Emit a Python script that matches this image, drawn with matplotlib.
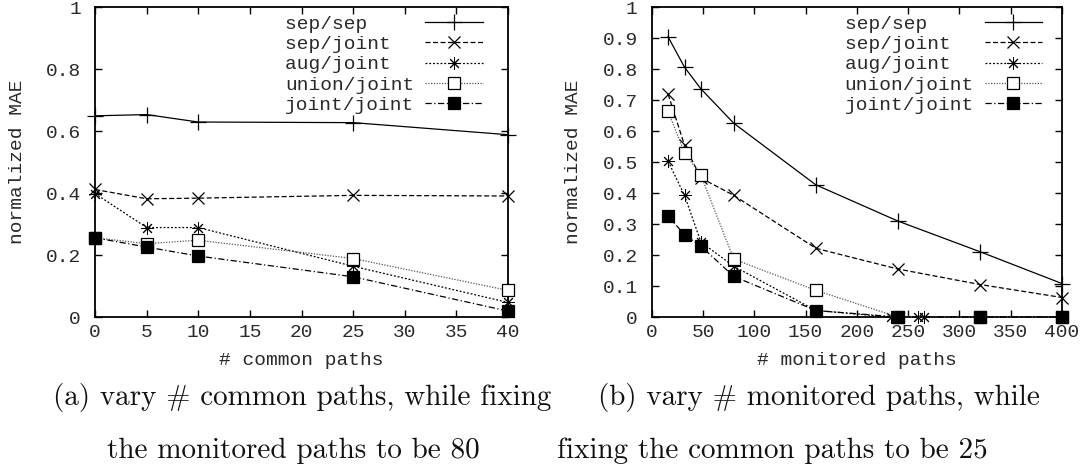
import matplotlib
matplotlib.use("Agg")
import matplotlib.pyplot as plt

# ---------------- data ----------------
series_names = ["sep/sep", "sep/joint", "aug/joint", "union/joint", "joint/joint"]

# (a) vary # common paths
common_x = [0, 5, 10, 25, 40]
a_sep_sep = [0.650, 0.654, 0.630, 0.628, 0.589]
a_sep_joint = [0.412, 0.382, 0.384, 0.393, 0.391]
a_aug_joint = [0.399, 0.289, 0.289, 0.164, 0.047]
a_union_joint = [0.256, 0.237, 0.248, 0.189, 0.086]
a_joint_joint = [0.256, 0.226, 0.197, 0.130, 0.019]

# (b) vary # monitored paths
mon_x = [16, 32, 48, 80, 160, 240, 320, 400]
b_sep_sep = [0.905, 0.807, 0.737, 0.626, 0.427, 0.310, 0.211, 0.108]
b_sep_joint = [0.720, 0.555, 0.449, 0.393, 0.222, 0.155, 0.105, 0.063]
aug_x = [16, 32, 48, 80, 160, 233, 260, 265, 320, 400]
b_aug_joint = [0.503, 0.393, 0.242, 0.164, 0.021, 0.0, 0.0, 0.0, 0.0, 0.0]
b_union_joint = [0.664, 0.531, 0.458, 0.187, 0.086, 0.0, 0.0, 0.0]
b_joint_joint = [0.326, 0.266, 0.229, 0.131, 0.021, 0.0, 0.0, 0.0]

a_xticks = [0, 5, 10, 15, 20, 25, 30, 35, 40]
a_yticks = [0, 0.2, 0.4, 0.6, 0.8, 1]
a_yticklabels = ["0", "0.2", "0.4", "0.6", "0.8", "1"]
b_xticks = [0, 50, 100, 150, 200, 250, 300, 350, 400]
b_yticks = [0, 0.1, 0.2, 0.3, 0.4, 0.5, 0.6, 0.7, 0.8, 0.9, 1]
b_yticklabels = ["0", "0.1", "0.2", "0.3", "0.4", "0.5", "0.6", "0.7", "0.8", "0.9", "1"]

ylabel = "normalized MAE"
a_xlabel = "# common paths"
b_xlabel = "# monitored paths"
a_caption = ["(a) vary # common paths, while fixing", "the monitored paths to be 80"]
b_caption = ["(b) vary # monitored paths, while", "fixing the common paths to be 25"]

# ---------------- styles ----------------
MONO = "Liberation Mono"
FS = 14
TXT = "#2a2a2a"
styles = [
    dict(color="black", ls="-", marker="+", ms=11, mew=0.9, mfc="none"),
    dict(color="black", ls=(0, (4, 2)), marker="x", ms=9, mew=0.9, mfc="none"),
    dict(color="black", ls=(0, (1.5, 1.5)), marker=(8, 2, 0), ms=9, mew=0.7, mfc="none"),
    dict(color="#555555", ls=(0, (1, 1.2)), marker="s", ms=8, mew=0.9, mfc="white", mec="black"),
    dict(color="black", ls=(0, (5, 2, 1, 2)), marker="s", ms=8, mew=0.9, mfc="black", mec="black"),
]

W, H = 1092, 466
fig = plt.figure(figsize=(W / 100, H / 100), dpi=100)


def px_axes(x0, x1, ytop, ybot):
    return fig.add_axes([x0 / W, 1 - ybot / H, (x1 - x0) / W, (ybot - ytop) / H])


axA = px_axes(95, 508, 7.5, 317)
axB = px_axes(651.7, 1062, 7.5, 317)

width_lab = max(len(n) for n in series_names)


def draw(ax, xs_list, ys_list, xlim, xticks, yticks, yticklabels, xlabel, ylab_x, leg_x):
    for name, xs, ys, st in zip(series_names, xs_list, ys_list, styles):
        ax.plot(xs, ys, label=name.ljust(width_lab), lw=0.9, clip_on=False, zorder=3, **st)
    ax.set_xlim(*xlim)
    ax.set_ylim(0, 1)
    ax.set_xticks(xticks)
    ax.set_xticklabels([str(t) for t in xticks])
    ax.set_yticks(yticks)
    ax.set_yticklabels(yticklabels)
    ax.tick_params(direction="in", length=5, width=1.0, top=True, right=True,
                   labelsize=FS, labelcolor=TXT, color="black")
    ax.tick_params(axis="x", pad=5)
    ax.tick_params(axis="y", pad=10)
    for lab in ax.get_xticklabels() + ax.get_yticklabels():
        lab.set_family(MONO)
    for sp in ax.spines.values():
        sp.set_linewidth(1.3)
    ax.set_ylabel(ylabel, family=MONO, fontsize=FS, color=TXT)
    ax.yaxis.set_label_coords(ylab_x, 0.5)
    ax.set_xlabel(xlabel, family=MONO, fontsize=FS, color=TXT)
    ax.xaxis.set_label_coords(0.5, -0.142)
    ax.xaxis.label.set_va("center")
    leg = ax.legend(loc="upper right", bbox_to_anchor=(leg_x, 0.974), frameon=False,
                    markerfirst=False, handlelength=2.95, handletextpad=0.55,
                    labelspacing=0.13, borderpad=0, borderaxespad=0,
                    prop=dict(family=MONO, size=FS))
    for t in leg.get_texts():
        t.set_color(TXT)
    return leg


draw(axA, [common_x] * 5,
     [a_sep_sep, a_sep_joint, a_aug_joint, a_union_joint, a_joint_joint],
     (0, 40), a_xticks, a_yticks, a_yticklabels, a_xlabel, -0.166, 0.9385)
draw(axB, [mon_x, mon_x, aug_x, mon_x, mon_x],
     [b_sep_sep, b_sep_joint, b_aug_joint, b_union_joint, b_joint_joint],
     (0, 400), b_xticks, b_yticks, b_yticklabels, b_xlabel, -0.170, 0.951)

CAP = dict(family="cmr10", fontsize=21, color="#111111", ha="center", va="center")
fig.text(302 / W, 1 - 398 / H, a_caption[0], **CAP)
fig.text(293 / W, 1 - 451 / H, a_caption[1], **CAP)
fig.text(819 / W, 1 - 398 / H, b_caption[0], **CAP)
fig.text(772 / W, 1 - 451 / H, b_caption[1], **CAP)

fig.savefig("out.png", dpi=100)
